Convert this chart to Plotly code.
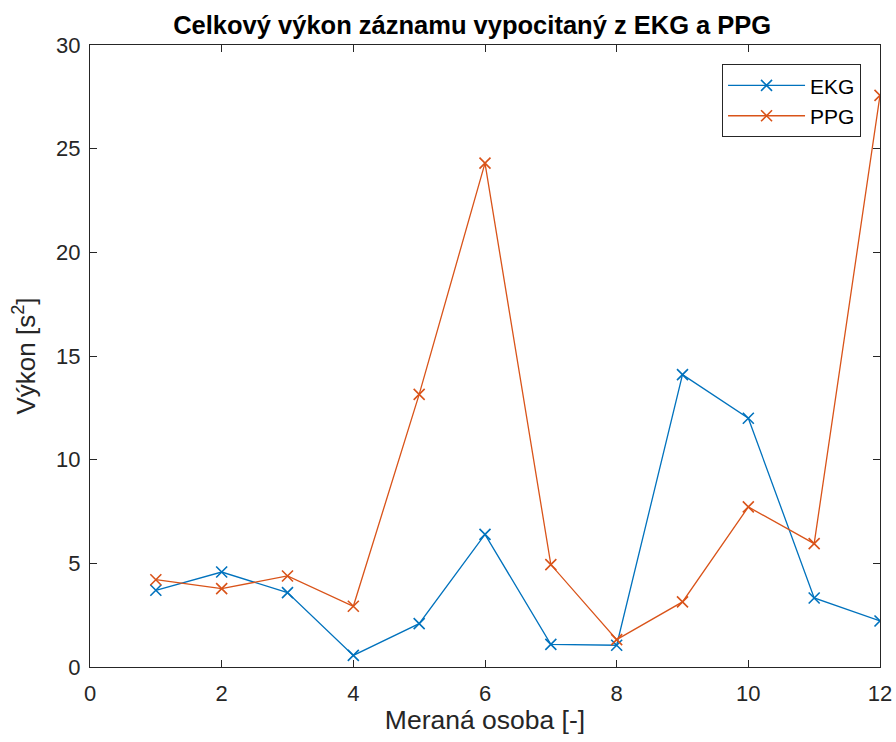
import plotly.graph_objects as go

osoby = [1, 2, 3, 4, 5, 6, 7, 8, 9, 10, 11, 12]
ekg = [3.70, 4.58, 3.59, 0.56, 2.09, 6.40, 1.09, 1.05, 14.10, 12.00, 3.33, 2.22]
ppg = [4.21, 3.78, 4.39, 2.93, 13.15, 24.30, 4.94, 1.32, 3.14, 7.72, 5.95, 27.57]
x_ticks = [0, 2, 4, 6, 8, 10, 12]
y_ticks = [0, 5, 10, 15, 20, 25, 30]

FONT = "Liberation Sans, Arial"
fig = go.Figure()
fig.add_trace(go.Scatter(x=osoby, y=ekg, mode="lines+markers", name="EKG",
                         line=dict(color="#0072BD", width=1.3),
                         marker=dict(symbol="x-thin", size=11, line=dict(color="#0072BD", width=1.6))))
fig.add_trace(go.Scatter(x=osoby, y=ppg, mode="lines+markers", name="PPG",
                         line=dict(color="#D95319", width=1.3),
                         marker=dict(symbol="x-thin", size=11, line=dict(color="#D95319", width=1.6))))

axis_common = dict(showgrid=False, zeroline=False, showline=True, linecolor="#262626", linewidth=1.2,
                   mirror="ticks", ticks="inside", ticklen=7, tickcolor="#262626",
                   tickfont=dict(family=FONT, size=22, color="#262626"))

fig.update_xaxes(range=[0, 12], tickvals=x_ticks, ticklabelstandoff=6, automargin="height",
                 title=dict(text="Meraná osoba [-]", font=dict(family=FONT, size=26.5, color="#262626"), standoff=4),
                 **axis_common)
fig.update_yaxes(range=[0, 30], tickvals=y_ticks, ticklabelstandoff=4, automargin="width",
                 title=dict(text="Výkon [s<sup>2</sup>]", font=dict(family=FONT, size=26, color="#262626"), standoff=12),
                 **axis_common)

fig.update_layout(
    width=896, height=742,
    margin=dict(l=90, r=16, t=45, b=75),
    paper_bgcolor="white", plot_bgcolor="white",
    title=dict(text="<b>Celkový výkon záznamu vypocitaný z EKG a PPG</b>",
               font=dict(family=FONT, size=25.5, color="black"),
               x=0.527, xanchor="center", y=0.966, yanchor="middle"),
    legend=dict(x=0.976, y=0.969, xanchor="right", yanchor="top",
                bordercolor="#262626", borderwidth=1, bgcolor="white", itemwidth=77,
                font=dict(family=FONT, size=21, color="black")),
)

fig.write_html("out.html", config={"displayModeBar": False},
               post_script="document.body.style.margin='0px';document.body.style.overflow='hidden';")
